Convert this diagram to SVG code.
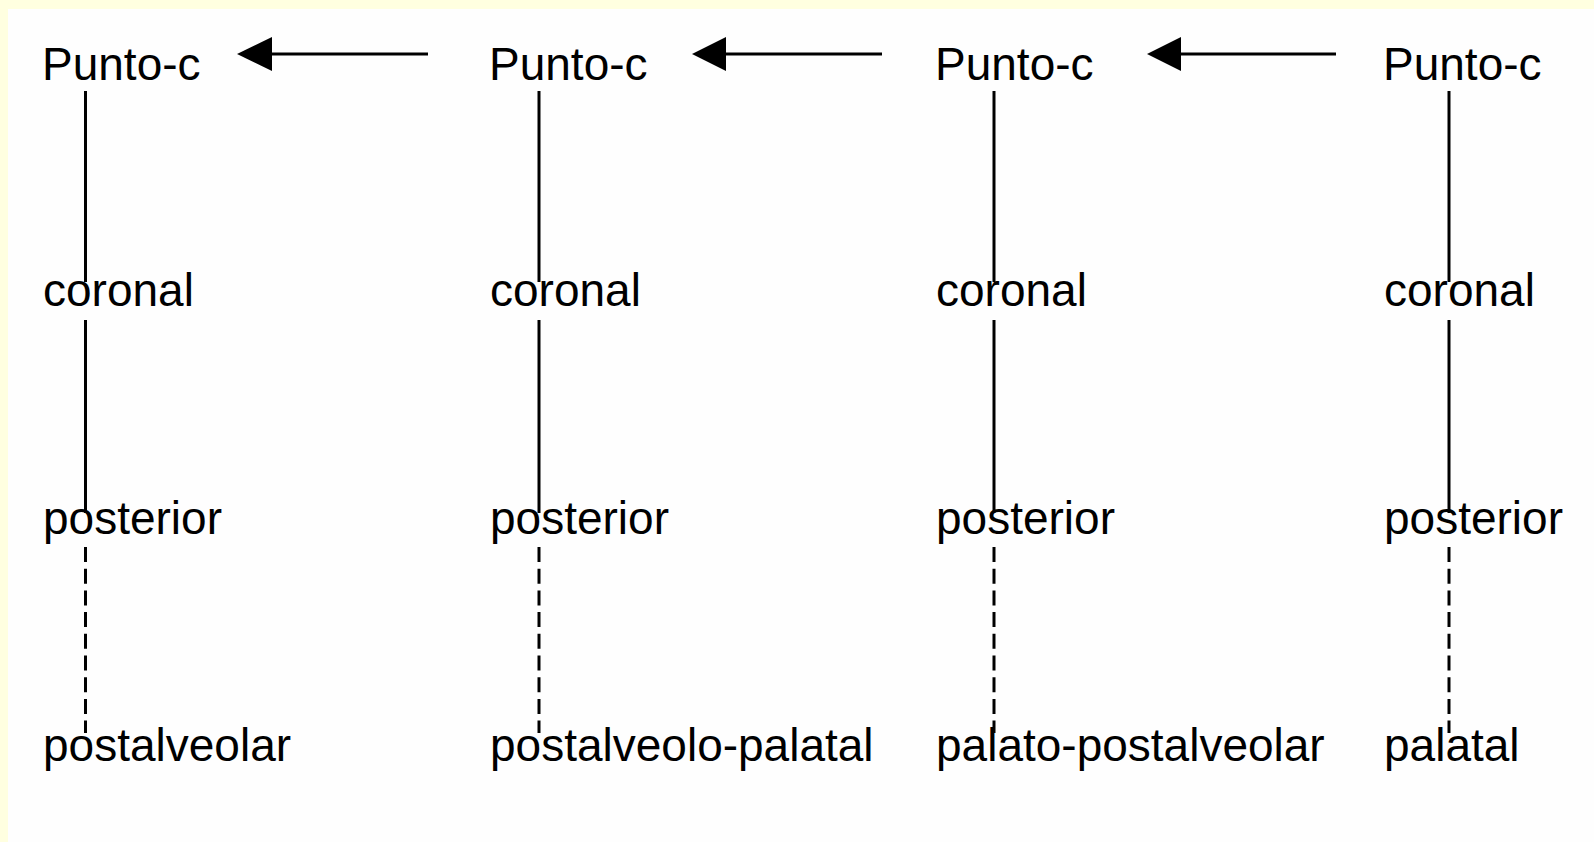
<svg xmlns="http://www.w3.org/2000/svg" width="1594" height="842" viewBox="0 0 1594 842">
<style>
.t{font-family:"Liberation Sans",Arial,sans-serif;font-size:46px;fill:#000}
.ln{stroke:#000;stroke-width:3;fill:none}
.ds{stroke:#000;stroke-width:3;fill:none;stroke-dasharray:15 6.7}
</style>
<rect x="0" y="0" width="1594" height="842" fill="#FFFFE0"/>
<rect x="8" y="9" width="1586" height="833" fill="#FEFEFE"/>
<g id="connectors">
<line class="ln" x1="428" y1="54" x2="270" y2="54"/>
<path d="M237,54 L272,37 L272,71 Z" fill="#000"/>
<line class="ln" x1="882" y1="54" x2="722" y2="54"/>
<path d="M692,54 L726,37 L726,71 Z" fill="#000"/>
<line class="ln" x1="1336" y1="54" x2="1177" y2="54"/>
<path d="M1147,54 L1181,37 L1181,71 Z" fill="#000"/>
<line class="ln" x1="85.5" y1="91" x2="85.5" y2="282"/>
<line class="ln" x1="85.5" y1="320" x2="85.5" y2="513"/>
<line class="ds" x1="85.5" y1="547" x2="85.5" y2="733"/>
<line class="ln" x1="539" y1="91" x2="539" y2="282"/>
<line class="ln" x1="539" y1="320" x2="539" y2="513"/>
<line class="ds" x1="539" y1="547" x2="539" y2="733"/>
<line class="ln" x1="994" y1="91" x2="994" y2="282"/>
<line class="ln" x1="994" y1="320" x2="994" y2="513"/>
<line class="ds" x1="994" y1="547" x2="994" y2="733"/>
<line class="ln" x1="1449" y1="91" x2="1449" y2="282"/>
<line class="ln" x1="1449" y1="320" x2="1449" y2="513"/>
<line class="ds" x1="1449" y1="547" x2="1449" y2="733"/>
</g>
<g id="col1">
<g id="c1-punto"><text class="t" x="42" y="80">Punto-c</text></g>
<g id="c1-coronal"><text class="t" x="43" y="306">coronal</text></g>
<g id="c1-posterior"><text class="t" x="43" y="534">posterior</text></g>
<g id="c1-postalveolar"><text class="t" x="43" y="761">postalveolar</text></g>
</g>
<g id="col2">
<g id="c2-punto"><text class="t" x="489" y="80">Punto-c</text></g>
<g id="c2-coronal"><text class="t" x="490" y="306">coronal</text></g>
<g id="c2-posterior"><text class="t" x="490" y="534">posterior</text></g>
<g id="c2-postalveolo-palatal"><text class="t" x="490" y="761">postalveolo-palatal</text></g>
</g>
<g id="col3">
<g id="c3-punto"><text class="t" x="935" y="80">Punto-c</text></g>
<g id="c3-coronal"><text class="t" x="936" y="306">coronal</text></g>
<g id="c3-posterior"><text class="t" x="936" y="534">posterior</text></g>
<g id="c3-palato-postalveolar"><text class="t" x="936" y="761">palato-postalveolar</text></g>
</g>
<g id="col4">
<g id="c4-punto"><text class="t" x="1383" y="80">Punto-c</text></g>
<g id="c4-coronal"><text class="t" x="1384" y="306">coronal</text></g>
<g id="c4-posterior"><text class="t" x="1384" y="534">posterior</text></g>
<g id="c4-palatal"><text class="t" x="1384" y="761">palatal</text></g>
</g>
</svg>
